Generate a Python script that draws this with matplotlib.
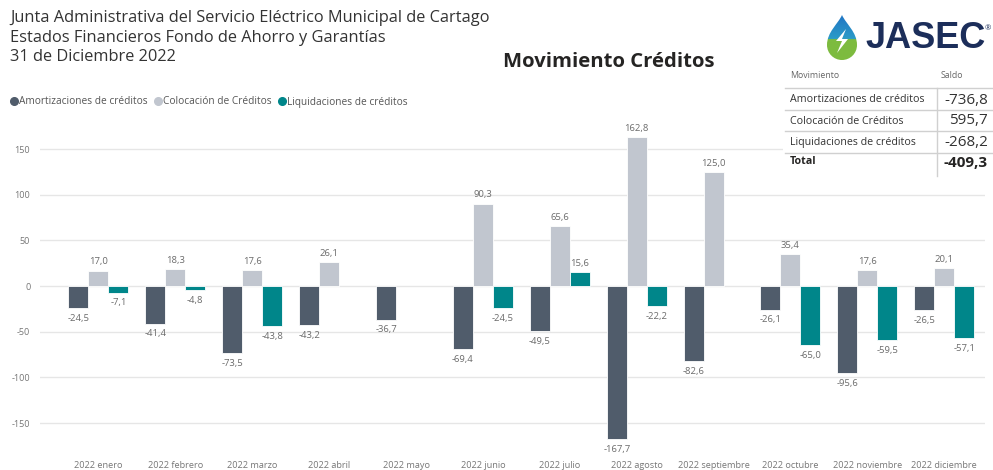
import matplotlib
matplotlib.use("Agg")
import matplotlib.pyplot as plt
import numpy as np
from matplotlib.lines import Line2D
from matplotlib.patches import PathPatch, Rectangle, Polygon
from matplotlib.path import Path

plt.rcParams['font.family'] = ['Open Sans', 'DejaVu Sans']

# ---- data ----
months = ["2022 enero", "2022 febrero", "2022 marzo", "2022 abril", "2022 mayo",
          "2022 junio", "2022 julio", "2022 agosto", "2022 septiembre",
          "2022 octubre", "2022 noviembre", "2022 diciembre"]
amortizaciones = [-24.5, -41.4, -73.5, -43.2, -36.7, -69.4, -49.5, -167.7, -82.6, -26.1, -95.6, -26.5]
colocacion = [17.0, 18.3, 17.6, 26.1, None, 90.3, 65.6, 162.8, 125.0, 35.4, 17.6, 20.1]
liquidaciones = [-7.1, -4.8, -43.8, None, None, -24.5, 15.6, -22.2, None, -65.0, -59.5, -57.1]

series_names = ["Amortizaciones de créditos", "Colocación de Créditos", "Liquidaciones de créditos"]
series_colors = ["#505C6B", "#C1C6CF", "#00868A"]

summary_labels = ["Amortizaciones de créditos", "Colocación de Créditos", "Liquidaciones de créditos"]
summary_values = ["-736,8", "595,7", "-268,2"]
summary_total = "-409,3"

title_lines = ["Junta Administrativa del Servicio Eléctrico Municipal de Cartago",
               "Estados Financieros Fondo de Ahorro y Garantías",
               "31 de Diciembre 2022"]
chart_title = "Movimiento Créditos"

W, H = 993, 470
fig = plt.figure(figsize=(W / 100, H / 100), dpi=100)


def fx(px):
    return px / W


def fy(py):
    return 1 - py / H


# ---- main chart ----
ax = fig.add_axes([fx(40), fy(455), fx(945), (455 - 118) / H])
x = np.arange(len(months))
bw = 0.26
label_color = "#6B6B6B"

for k, (vals, color) in enumerate(zip([amortizaciones, colocacion, liquidaciones], series_colors)):
    offs = (k - 1) * bw
    for i, v in enumerate(vals):
        if v is None:
            continue
        ax.bar(x[i] + offs, v, width=bw, color=color, edgecolor="white", linewidth=0.6, zorder=3)
        txt = f"{v:.1f}".replace(".", ",")
        if v >= 0:
            ax.annotate(txt, (x[i] + offs, v), xytext=(0, 3), textcoords="offset points",
                        ha="center", va="bottom", fontsize=6.8, color=label_color)
        else:
            ax.annotate(txt, (x[i] + offs, v), xytext=(0, -4), textcoords="offset points",
                        ha="center", va="top", fontsize=6.8, color=label_color)

ax.set_xlim(-0.76, 11.53)
ax.set_ylim(-185, 184)
ax.set_yticks([-150, -100, -50, 0, 50, 100, 150])
ax.set_yticklabels(["-150", "-100", "-50", "0", "50", "100", "150"])
ax.set_xticks(x)
ax.set_xticklabels(months)
ax.tick_params(axis="both", length=0, labelsize=6.6, colors="#777777")
ax.tick_params(axis="x", pad=4.5)
ax.tick_params(axis="y", pad=7)
ax.grid(axis="y", color="#E6E6E6", linewidth=1.0, zorder=0)
for s in ax.spines.values():
    s.set_visible(False)

# ---- header texts ----
for j, line in enumerate(title_lines):
    fig.text(fx(10), fy(18 + j * 19.5), line, fontsize=11.8, color="#333333", va="center", ha="left")

fig.text(fx(609), fy(62), chart_title, fontsize=14.6, fontweight="bold", color="#252423",
         ha="center", va="center")

# ---- legend ----
handles = [Line2D([0], [0], marker="o", linestyle="none", markersize=5.5,
                  markerfacecolor=c, markeredgecolor=c) for c in series_colors]
fig.legend(handles, series_names, loc="center left", bbox_to_anchor=(fx(5), fy(102)),
           ncol=3, frameon=False, fontsize=7.3, handletextpad=0.0, columnspacing=0.5,
           handlelength=1.0, labelcolor="#555555", borderaxespad=0)

# ---- summary table ----
fig.patches.append(Rectangle((fx(783), fy(178)), fx(993 - 783), (178 - 66) / H,
                             transform=fig.transFigure, facecolor="white", edgecolor="none", zorder=5))
fig.text(fx(790), fy(76), "Movimiento", fontsize=6.3, color="#666666", va="center", zorder=6)
fig.text(fx(941), fy(76), "Saldo", fontsize=6.3, color="#666666", va="center", zorder=6)

line_c = "#D0D0D0"
for py in [88, 110, 131, 153]:
    fig.add_artist(Line2D([fx(785), fx(993)], [fy(py), fy(py)], color=line_c, linewidth=1.0,
                          transform=fig.transFigure, zorder=6))
fig.add_artist(Line2D([fx(937), fx(937)], [fy(88), fy(176)], color=line_c, linewidth=1.0,
                      transform=fig.transFigure, zorder=6))

row_y = [100, 121, 142]
for lab, val, py in zip(summary_labels, summary_values, row_y):
    fig.text(fx(790), fy(py), lab, fontsize=7.7, color="#333333", va="center", zorder=6)
    fig.text(fx(988), fy(py), val, fontsize=11, color="#333333", va="center", ha="right", zorder=6)
fig.text(fx(790), fy(162), "Total", fontsize=7.7, color="#252423", va="center", fontweight="bold", zorder=6)
fig.text(fx(988), fy(163), summary_total, fontsize=11, color="#252423", va="center", ha="right",
         fontweight="bold", zorder=6)

# ---- logo ----
lax = fig.add_axes([fx(820), fy(62), fx(45), 50 / H])
lax.set_xlim(0, 45)
lax.set_ylim(0, 50)
lax.axis("off")
verts = [(22, 47), (26, 38), (37, 30), (37, 17),
         (37, 8.7), (30.3, 2), (22, 2),
         (13.7, 2), (7, 8.7), (7, 17),
         (7, 30), (18, 38), (22, 47)]
codes = [Path.MOVETO] + [Path.CURVE4] * 12
drop = PathPatch(Path(verts, codes), facecolor="none", edgecolor="none")
lax.add_patch(drop)
grad = np.zeros((100, 1, 3))
top = np.array([0x1F, 0x6F, 0xC4]) / 255
mid = np.array([0x2B, 0x9C, 0xC8]) / 255
bot = np.array([0x7D, 0xBB, 0x3F]) / 255
for r in range(100):
    t = r / 99
    if t < 0.55:
        grad[r, 0] = top + (mid - top) * (t / 0.55)
    else:
        grad[r, 0] = bot
im = lax.imshow(grad, extent=(0, 45, 0, 50), origin="upper", aspect="auto")
im.set_clip_path(drop)
bolt = Polygon([(26, 33), (16, 21), (22, 21), (17, 9), (28, 23), (22, 23)],
               closed=True, facecolor="white", edgecolor="none")
lax.add_patch(bolt)

fig.text(fx(866), fy(39), "JASEC", fontsize=26, fontweight="bold", color="#1C2E5A",
         family="Liberation Sans", va="center", ha="left")
fig.text(fx(985), fy(29), "®", fontsize=5.5, color="#1C2E5A", va="center", ha="left")

fig.savefig("out.png", dpi=100, facecolor="white")
